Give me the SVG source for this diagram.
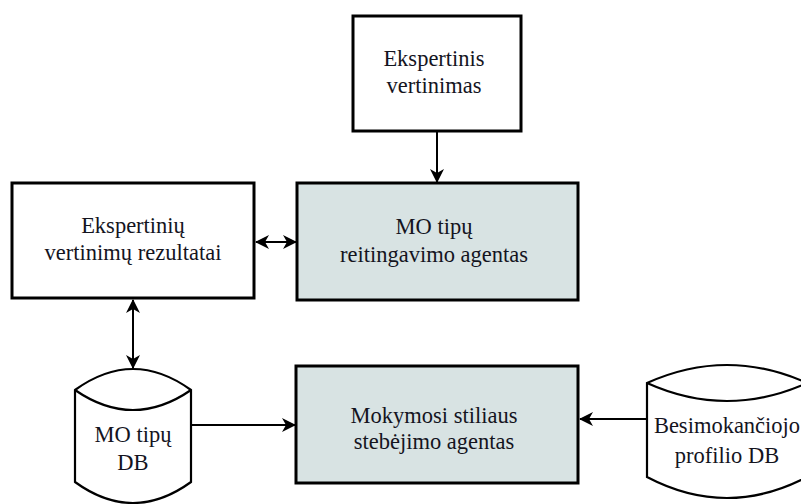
<svg xmlns="http://www.w3.org/2000/svg" width="801" height="504" viewBox="0 0 801 504">
<style>
  .box{fill:#ffffff;stroke:#000;stroke-width:3}
  .agent{fill:#d8e3e3;stroke:#000;stroke-width:3}
  .db{fill:#ffffff;stroke:#000;stroke-width:2.2}
  .lbl{font-family:"Liberation Serif","Times New Roman",serif;font-size:22.5px;fill:#14141e;text-anchor:middle}
  .conn{stroke:#000;stroke-width:2;fill:none}
</style>
<defs>
  <marker id="ah" viewBox="0 0 14 14" refX="13" refY="7" markerWidth="14" markerHeight="14" markerUnits="userSpaceOnUse" orient="auto-start-reverse">
    <path d="M0,0 L14,7 L0,14 L4,7 z" fill="#000"/>
  </marker>
</defs>
<rect width="801" height="504" fill="#fff"/>

<g id="connectors">
  <line class="conn" x1="437" y1="132" x2="437" y2="182" marker-end="url(#ah)"/>
  <line class="conn" x1="256" y1="242" x2="296" y2="242" marker-start="url(#ah)" marker-end="url(#ah)"/>
  <line class="conn" x1="133" y1="300" x2="133" y2="368" marker-start="url(#ah)" marker-end="url(#ah)"/>
  <line class="conn" x1="191" y1="425" x2="295" y2="425" marker-end="url(#ah)"/>
  <line class="conn" x1="647" y1="419" x2="580" y2="419" marker-end="url(#ah)"/>
</g>

<g id="ekspertinis">
  <rect class="box" x="353" y="16" width="168" height="115"/>
  <text class="lbl" x="434" y="66">Ekspertinis</text>
  <text class="lbl" x="434" y="93">vertinimas</text>
</g>

<g id="reitingavimo">
  <rect class="agent" x="297" y="183" width="281" height="117"/>
  <text class="lbl" x="434" y="234">MO tipų</text>
  <text class="lbl" x="434" y="262">reitingavimo agentas</text>
</g>

<g id="rezultatai">
  <rect class="box" x="12" y="183" width="242" height="115"/>
  <text class="lbl" x="133" y="233">Ekspertinių</text>
  <text class="lbl" x="133" y="260">vertinimų rezultatai</text>
</g>

<g id="mo-db">
  <path class="db" d="M75,390 Q133,348 191,390 L191,482 Q133,524 75,482 Z"/>
  <path class="db" d="M75,390 Q133,430 191,390" fill="none"/>
  <text class="lbl" x="133" y="442">MO tipų</text>
  <text class="lbl" x="133" y="470">DB</text>
</g>

<g id="stebejimo">
  <rect class="agent" x="296" y="366" width="282" height="117"/>
  <text class="lbl" x="434" y="423">Mokymosi stiliaus</text>
  <text class="lbl" x="434" y="449">stebėjimo agentas</text>
</g>

<g id="profilio-db">
  <path class="db" d="M647,383 Q727,347 807,383 L807,477 Q727,519 647,477 Z"/>
  <path class="db" d="M647,383 Q727,419 807,383" fill="none"/>
  <text class="lbl" x="727" y="433">Besimokančiojo</text>
  <text class="lbl" x="727" y="463">profilio DB</text>
</g>
</svg>
